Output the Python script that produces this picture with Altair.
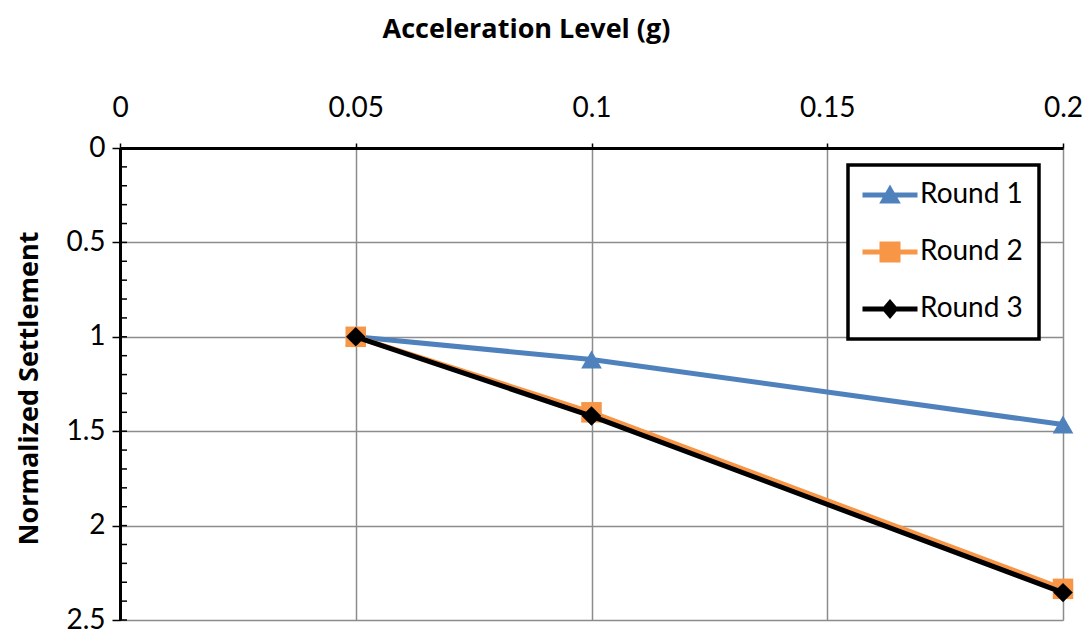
import altair as alt
import pandas as pd

# ---- data ----
accel = [0.05, 0.1, 0.2]
round1 = [1.0, 1.12, 1.465]
round2 = [1.0, 1.40, 2.335]
round3 = [1.0, 1.42, 2.355]
series_names = ["Round 1", "Round 2", "Round 3"]
x_ticks = [0, 0.05, 0.1, 0.15, 0.2]
y_ticks = [0, 0.5, 1, 1.5, 2, 2.5]
y_minor = [round(i * 0.1, 1) for i in range(26)]

rows = []
for name, vals in zip(series_names, [round1, round2, round3]):
    for a, v in zip(accel, vals):
        rows.append({"series": name, "accel": a, "settle": v})
df = pd.DataFrame(rows)
minor_df = pd.DataFrame({"v": y_minor})

colors = ["#4F81BD", "#F79646", "#000000"]
shapes = ["triangle-up", "square", "diamond"]
sizes = [430, 420, 380]
legend_paths = [
    "M-2.75,-0.25H2.75V0.25H-2.75Z M0,-1.05L1.08,0.85L-1.08,0.85Z",
    "M-2.75,-0.25H2.75V0.25H-2.75Z M-1.05,-1.05H1.05V1.05H-1.05Z",
    "M-2.75,-0.25H2.75V0.25H-2.75Z M0,-1.0L0.85,0L0,1.0L-0.85,0Z",
]

FONT = "Lato"
TITLE_FONT = "Open Sans"

xscale = alt.Scale(domain=[0, 0.2], nice=False, zero=False)
yscale = alt.Scale(domain=[0, 2.5], reverse=True, nice=False, zero=False)

xaxis = alt.Axis(
    orient="top", values=x_ticks, format="~g", title="Acceleration Level (g)",
    grid=True, gridColor="#8C8C8C", gridWidth=1.5,
    domainColor="black", domainWidth=3,
    tickColor="black", tickWidth=1.5, tickSize=5,
    labelFont=FONT, labelFontSize=28, labelColor="black", labelPadding=27,
    labelBaseline="alphabetic", labelFlush=False,
    titleFont=TITLE_FONT, titleFontSize=27, titleFontWeight="bold", titleColor="black",
    titleX=406, titleY=-111, titleAlign="center", titleBaseline="alphabetic",
)
yaxis = alt.Axis(
    orient="left", values=y_ticks, format="~g", title="Normalized Settlement",
    grid=True, gridColor="#8C8C8C", gridWidth=1.5,
    domainColor="black", domainWidth=3,
    tickColor="black", tickWidth=1.5, tickSize=8,
    labelFont=FONT, labelFontSize=28, labelColor="black", labelPadding=7,
    labelBaseline="middle", labelFlush=False,
    titleFont=TITLE_FONT, titleFontSize=27, titleFontWeight="bold", titleColor="black",
    titleX=-83, titleY=240, titleAngle=-90, titleAlign="center", titleBaseline="alphabetic",
)

X = alt.X("accel:Q", scale=xscale, axis=xaxis)
Y = alt.Y("settle:Q", scale=yscale, axis=yaxis)

layers = []

# minor ticks on y axis (inside)
layers.append(
    alt.Chart(minor_df).mark_rule(color="black", strokeWidth=1.5).encode(
        y=alt.Y("v:Q", scale=yscale, axis=yaxis),
        x=alt.value(0),
        x2=alt.value(7),
    )
)

for name, c, s, sz in zip(series_names, colors, shapes, sizes):
    base = alt.Chart(df).transform_filter(alt.datum.series == name)
    layers.append(base.mark_line(strokeWidth=5, color=c).encode(x=X, y=Y))
    layers.append(
        base.mark_point(filled=True, opacity=1, shape=s, size=sz, color=c).encode(x=X, y=Y)
    )

leg = alt.Legend(
    orient="none", legendX=728, legendY=17, title=None,
    strokeColor="black", fillColor="white", padding=16,
    symbolSize=400, symbolOffset=12, labelOffset=16, symbolStrokeWidth=0,
    labelFont=FONT, labelFontSize=28, labelColor="black", labelLimit=300,
    rowPadding=29,
)
layers.append(
    alt.Chart(df).transform_filter("datum.accel < 0").mark_point(filled=True, opacity=1).encode(
        x=X, y=Y,
        color=alt.Color("series:N", scale=alt.Scale(domain=series_names, range=colors), legend=leg),
        shape=alt.Shape("series:N", scale=alt.Scale(domain=series_names, range=legend_paths), legend=leg),
    )
)

chart = alt.layer(*layers).properties(
    width=943, height=472,
    autosize=alt.AutoSizeParams(type="none"),
    padding={"left": 112, "top": 140, "right": 20, "bottom": 10},
).configure_view(stroke="black", strokeWidth=3).configure(background="white")

chart.save(
    "out.html",
    embed_options={
        "renderer": "svg",
        "actions": False,
        "patch": [
            {"op": "add", "path": "/legends/0/encode/legend",
             "value": {"update": {"strokeWidth": {"value": 3.5}}}}
        ],
    },
)
